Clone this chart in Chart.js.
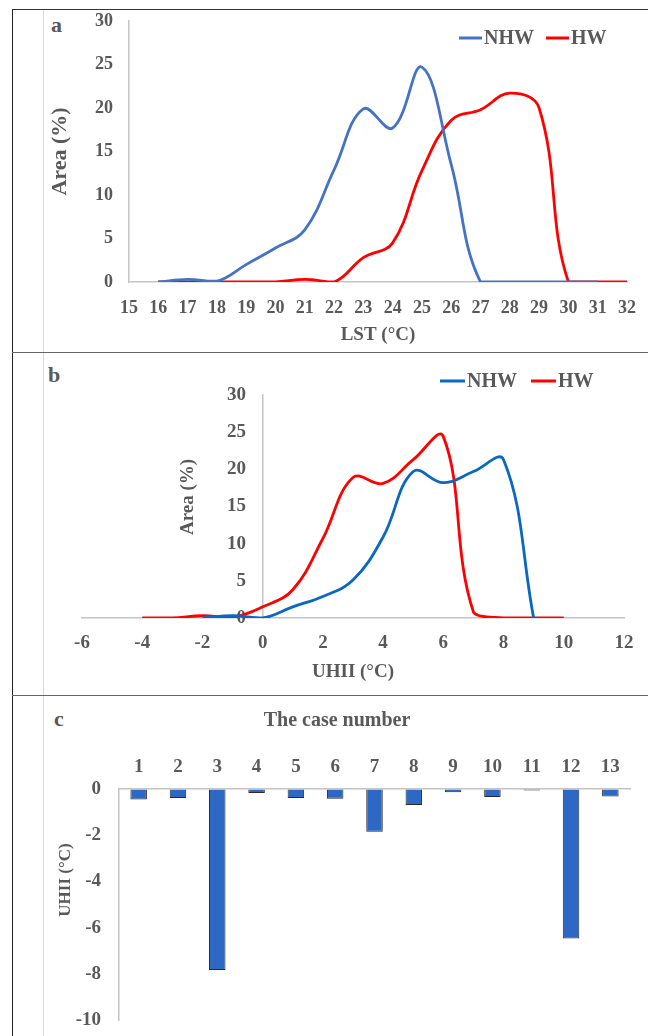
<!DOCTYPE html>
<html>
<head>
<meta charset="utf-8">
<script src="https://cdn.jsdelivr.net/npm/chart.js@4.4.0/dist/chart.umd.min.js"></script>
<style>
  body { margin: 0; background: #fff; }
  #page { position: relative; width: 648px; height: 1036px; overflow: hidden; }
  .rule { position: absolute; }
  .letter { position: absolute; font: bold 22px 'Liberation Serif', serif; line-height: 22px; color: #595959; }
  canvas { position: absolute; left: 44px; }
</style>
</head>
<body>
<div id="page">
  <div class="rule" style="left:12px;top:9px;width:1px;height:1027px;background:#222"></div>
  <div class="rule" style="left:12px;top:9px;width:636px;height:1px;background:#333"></div>
  <div class="rule" style="left:43px;top:10px;width:1px;height:1026px;background:#d9d9d9"></div>
  <div class="rule" style="left:12px;top:352px;width:636px;height:1px;background:#666"></div>
  <div class="rule" style="left:12px;top:695px;width:636px;height:1px;background:#666"></div>

  <div class="letter" style="left:51px;top:14px">a</div>
  <div class="letter" style="left:48px;top:364px">b</div>
  <div class="letter" style="left:54px;top:708px">c</div>

  <canvas id="chartA" width="604" height="342" style="top:10px"></canvas>
  <canvas id="chartB" width="604" height="342" style="top:354px"></canvas>
  <canvas id="chartC" width="604" height="339" style="top:697px"></canvas>
</div>
<script>
// panel a: area share by land surface temperature
const lstTemps = [16, 17, 18, 19, 20, 21, 22, 23, 24, 25, 26, 27, 28, 29, 30, 31, 32];
const lstNHW = [0, 0.3, 0.1, 2.0, 3.9, 6.0, 12.9, 19.9, 17.7, 24.7, 13.5, 0, 0, 0, 0, 0, null];
const lstHW = [0, 0, 0, 0, 0, 0.3, 0, 2.8, 4.5, 12.8, 18.6, 19.8, 21.7, 20.0, 0, 0, 0];

// panel b: area share by UHII
const uhiiTemps = [-4, -3, -2, -1, 0, 1, 2, 3, 4, 5, 6, 7, 8, 9, 10];
const uhiiNHW = [null, null, 0, 0.3, 0, 1.5, 2.9, 5.1, 10.9, 19.7, 18.2, 19.7, 21.3, 0, null];
const uhiiHW = [0, 0, 0.3, 0.1, 1.5, 3.8, 10.7, 18.9, 18.1, 21.3, 24.4, 0.8, 0, 0, 0];

// panel c: UHII change per case
const caseNumbers = ['1', '2', '3', '4', '5', '6', '7', '8', '9', '10', '11', '12', '13'];
const caseUHII = [-0.45, -0.39, -7.84, -0.17, -0.39, -0.42, -1.85, -0.69, -0.14, -0.35, -0.07, -6.47, -0.32];

const TEXT = '#595959';
const AXIS = '#c4c4c4';
const FONT = "'Liberation Serif', 'Times New Roman', serif";

Chart.defaults.font.family = FONT;
Chart.defaults.font.weight = 'bold';
Chart.defaults.color = TEXT;
Chart.defaults.animation = false;

const toPoints = (xs, ys) => xs.map((x, i) => ({ x: x, y: ys[i] }));

// legend drawn inside the plot area: short line + label
const lineLegend = {
  id: 'lineLegend',
  afterDraw(chart, args, opts) {
    const ctx = chart.ctx;
    let x = opts.x;
    ctx.save();
    ctx.font = `bold ${opts.size}px ${FONT}`;
    ctx.textBaseline = 'middle';
    ctx.textAlign = 'left';
    chart.data.datasets.forEach(ds => {
      ctx.strokeStyle = ds.borderColor;
      ctx.lineWidth = 3;
      ctx.beginPath();
      ctx.moveTo(x, opts.y);
      ctx.lineTo(x + opts.lineLen, opts.y);
      ctx.stroke();
      x += opts.lineLen + 2;
      ctx.fillStyle = TEXT;
      ctx.fillText(ds.label, x, opts.y + 1);
      x += ctx.measureText(ds.label).width + opts.gap;
    });
    ctx.restore();
  }
};

// rotated axis title at a free position
const sideTitle = {
  id: 'sideTitle',
  afterDraw(chart, args, opts) {
    const ctx = chart.ctx;
    ctx.save();
    ctx.translate(opts.x, opts.y);
    ctx.rotate(-Math.PI / 2);
    ctx.font = `bold ${opts.size}px ${FONT}`;
    ctx.fillStyle = TEXT;
    ctx.textAlign = 'center';
    ctx.textBaseline = 'middle';
    ctx.fillText(opts.text, 0, 0);
    ctx.restore();
  }
};

// invisible tick marks used only as spacing between axis and labels
const gap = n => ({
  display: true, drawOnChartArea: false, drawTicks: true, tickLength: n,
  color: 'rgba(0,0,0,0)', tickColor: 'rgba(0,0,0,0)'
});
const axisBorder = { color: AXIS, width: 1.5 };

new Chart(document.getElementById('chartA'), {
  type: 'line',
  data: {
    datasets: [
      { label: 'NHW', data: toPoints(lstTemps, lstNHW), borderColor: '#4472C4' },
      { label: 'HW', data: toPoints(lstTemps, lstHW), borderColor: '#FF0000' }
    ]
  },
  options: {
    responsive: false,
    layout: { padding: { top: 11, right: 21, bottom: 0, left: 0 } },
    elements: { point: { radius: 0 }, line: { borderWidth: 2.8, tension: 0.4 } },
    plugins: {
      legend: { display: false },
      tooltip: { enabled: false },
      lineLegend: { x: 415, y: 28, lineLen: 23, gap: 12, size: 20 }
    },
    scales: {
      x: {
        type: 'linear', min: 15, max: 32,
        grid: gap(16), border: axisBorder,
        ticks: { stepSize: 1, autoSkip: false, padding: 0, font: { size: 18 } },
        title: { display: true, text: 'LST (°C)', font: { size: 19 }, padding: { top: 0, bottom: 6 } },
        afterFit: s => { s.height = 70; }
      },
      y: {
        min: 0, max: 30,
        grid: gap(16), border: axisBorder,
        ticks: { stepSize: 5, padding: 0, font: { size: 18 } },
        title: { display: true, text: 'Area (%)', font: { size: 22 }, padding: { top: 3, bottom: 0 } },
        afterFit: s => { s.width = 85; }
      }
    }
  },
  plugins: [lineLegend]
});

new Chart(document.getElementById('chartB'), {
  type: 'line',
  data: {
    datasets: [
      { label: 'NHW', data: toPoints(uhiiTemps, uhiiNHW), borderColor: '#0A67C2' },
      { label: 'HW', data: toPoints(uhiiTemps, uhiiHW), borderColor: '#FF0000' }
    ]
  },
  options: {
    responsive: false,
    layout: { padding: { top: 41, right: 24, bottom: 0, left: 38 } },
    elements: { point: { radius: 0 }, line: { borderWidth: 2.8, tension: 0.4 } },
    plugins: {
      legend: { display: false },
      tooltip: { enabled: false },
      lineLegend: { x: 396, y: 27, lineLen: 25, gap: 14, size: 20 },
      sideTitle: { text: 'Area (%)', x: 144, y: 143, size: 19 }
    },
    scales: {
      x: {
        type: 'linear', min: -6, max: 12,
        grid: gap(14), border: axisBorder,
        ticks: { stepSize: 2, autoSkip: false, padding: 0, font: { size: 19 } },
        title: { display: true, text: 'UHII (°C)', font: { size: 19 }, padding: { top: 0, bottom: 13 } },
        afterFit: s => { s.height = 78; }
      },
      // axis line crossing at x = 0
      y: {
        position: { x: 0 },
        min: 0, max: 30,
        grid: { display: false, drawTicks: false }, border: axisBorder,
        ticks: { display: false, stepSize: 5 },
        afterFit: s => { s.width = 0; }
      },
      // tick labels, set just left of the crossing axis
      yTicks: {
        type: 'linear', axis: 'y',
        position: { x: -0.55 },
        min: 0, max: 30,
        grid: { display: false, drawTicks: false }, border: { display: false },
        ticks: { stepSize: 5, padding: 0, font: { size: 19 } },
        afterFit: s => { s.width = 0; }
      }
    }
  },
  plugins: [lineLegend, sideTitle]
});

new Chart(document.getElementById('chartC'), {
  type: 'bar',
  data: {
    labels: caseNumbers,
    datasets: [{
      label: 'UHII',
      data: caseUHII,
      backgroundColor: '#2D69C4',
      borderColor: '#2a2a2a',
      borderWidth: 1,
      categoryPercentage: 1,
      barPercentage: 0.42
    }]
  },
  options: {
    responsive: false,
    layout: { padding: { top: 0, right: 18, bottom: 16, left: 0 } },
    plugins: {
      legend: { display: false },
      tooltip: { enabled: false },
      title: { display: true, text: 'The case number', color: TEXT, font: { size: 20, weight: 'bold' }, padding: { top: 12, bottom: 0 } },
      sideTitle: { text: 'UHII (°C)', x: 22, y: 183, size: 17 }
    },
    scales: {
      x: {
        position: 'top',
        grid: gap(11), border: axisBorder,
        ticks: { padding: 0, autoSkip: false, maxRotation: 0, font: { size: 19 } },
        afterFit: s => { s.height = 56; }
      },
      y: {
        min: -10, max: 0,
        grid: gap(18), border: axisBorder,
        ticks: { stepSize: 2, padding: 0, font: { size: 19 } },
        afterFit: s => { s.width = 75; }
      }
    }
  },
  plugins: [sideTitle]
});
</script>
</body>
</html>
